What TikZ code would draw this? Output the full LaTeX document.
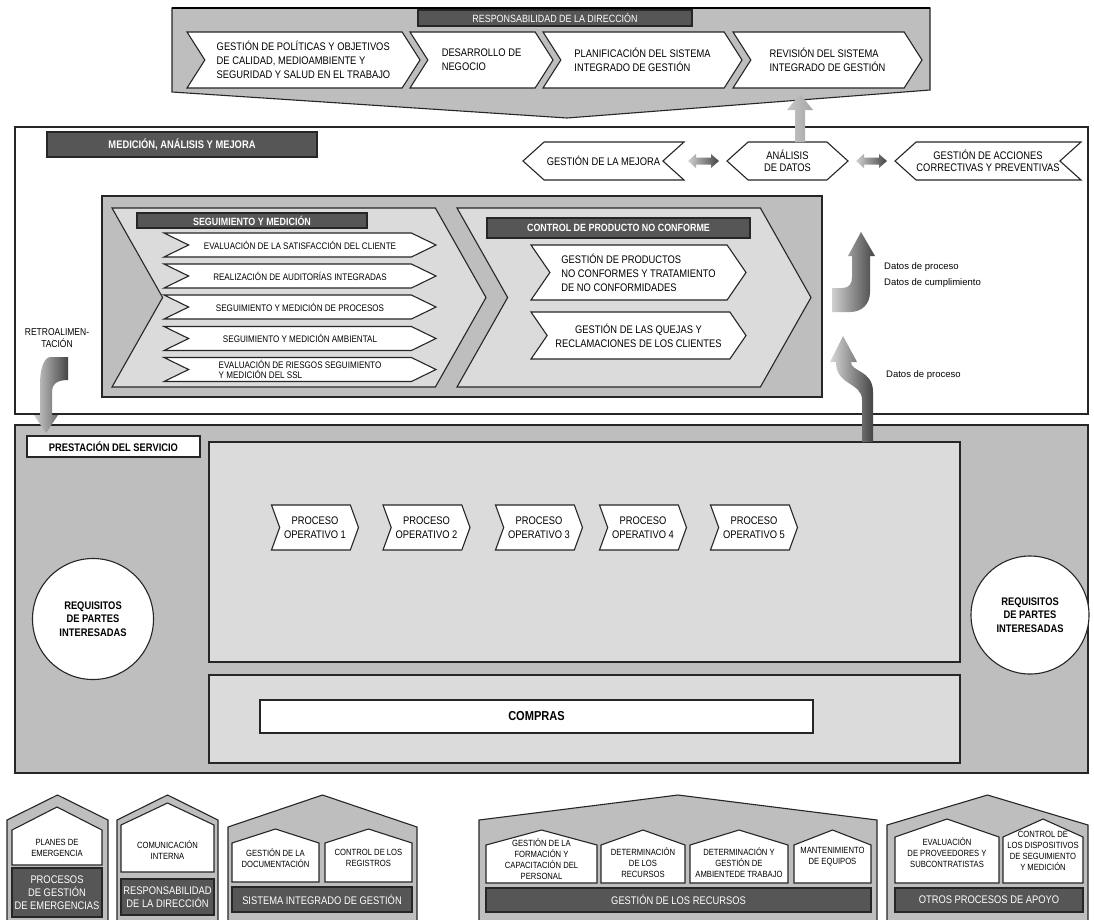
\documentclass[tikz,border=0pt]{standalone}
\usepackage{fontspec}
\setmainfont{Liberation Sans}
\newfontfamily\narrow{Liberation Sans}[FakeStretch=0.85]
\usetikzlibrary{shapes.symbols,calc}
\definecolor{midgray}{HTML}{BEBEBE}
\definecolor{panelgray}{HTML}{DBDBDB}
\definecolor{darkbar}{HTML}{565656}
\definecolor{framegray}{HTML}{262626}
\definecolor{arrowlight}{HTML}{D0D0D0}
\definecolor{arrowdark}{HTML}{454545}
\newcommand\fsz[2]{\fontsize{#1}{#2}\selectfont}
% house outline: style, left x, right x, eave y, peak y, bottom y
\newcommand\house[6][]{%
  \path[#1] (#2,#6) -- (#2,#4) -- ({(#2+#3)/2},#5) -- (#3,#4) -- (#3,#6) -- cycle;}
\tikzset{
  chev/.style={signal, signal from=west, signal to=east, draw=framegray, fill=white,
    inner sep=0pt, align=center, line width=1.1pt},
  topchev/.style={chev, signal pointer angle=115, minimum height=56pt, align=left,
    font={\narrow\fsz{11}{14}}},
  subchev/.style={chev, signal pointer angle=52, minimum width=272pt, minimum height=24pt,
    font={\narrow\fsz{9.5}{10.5}}},
  ctrlchev/.style={chev, signal pointer angle=111, minimum width=215pt,
    font={\narrow\fsz{11}{14}}},
  procchev/.style={chev, signal pointer angle=140, minimum width=87pt, minimum height=45pt,
    font={\narrow\fsz{11}{14}}},
  bigchev/.style={chev, signal pointer angle=121, minimum height=179pt, fill=panelgray},
  hexa/.style={signal, draw=framegray, fill=white, inner sep=0pt, line width=1.1pt,
    signal pointer angle=84, minimum height=38pt, align=center, font={\narrow\fsz{11}{12.5}}},
  bar/.style={draw=framegray, fill=darkbar, text=white, inner sep=0pt, line width=1.1pt,
    font={\narrow\fsz{10.5}{12}}},
  whitebox/.style={draw=framegray, fill=white, inner sep=0pt, line width=1.1pt},
  req/.style={circle, draw=framegray, fill=white, line width=1.1pt, minimum size=121pt,
    align=center, font={\narrow\bfseries\fsz{11}{13.5}}},
  housetext/.style={align=center, inner sep=0pt, font={\narrow\fsz{9}{11}}},
  housebar/.style={align=center, inner sep=0pt, text=white, font={\narrow\fsz{11}{13}}},
  datos/.style={anchor=west, align=left, inner sep=0pt, font={\fsz{9.5}{16}}}
}
\begin{document}
\begin{tikzpicture}[x=1pt,y=-1pt,line join=miter]
  \useasboundingbox (0,0) rectangle (1094,919);
  % responsabilidad de la direccion
  \draw[framegray,fill=midgray,line width=1.1pt] (172,8) -- (930,8) -- (930,90) -- (567,118) -- (172,92) -- cycle;
  \draw[black,line width=1.8pt] (172,8) -- (930,8);
  \node[bar,minimum width=274pt,minimum height=16pt] (resp) at (555,18) {RESPONSABILIDAD DE LA DIRECCIÓN};
  \node[topchev,minimum width=233pt] (pol) at (303.5,60) {GESTIÓN DE POLÍTICAS Y OBJETIVOS\\DE CALIDAD, MEDIOAMBIENTE Y\\SEGURIDAD Y SALUD EN EL TRABAJO};
  \node[topchev,minimum width=143pt] (neg) at (481.5,60) {DESARROLLO DE\\NEGOCIO};
  \node[topchev,minimum width=199pt] (plan) at (642.5,60) {PLANIFICACIÓN DEL SISTEMA\\INTEGRADO DE GESTIÓN};
  \node[topchev,minimum width=189pt] (rev) at (827.5,60) {REVISIÓN DEL SISTEMA\\INTEGRADO DE GESTIÓN};

  % medicion, analisis y mejora
  \draw[framegray,fill=white,line width=1.3pt] (15,127) rectangle (1088,414);
  \node[bar,minimum width=270pt,minimum height=25pt,font={\narrow\bfseries\fsz{11}{12}}] (med) at (182,144.5) {MEDICIÓN, ANÁLISIS Y MEJORA};
  \node[hexa,signal to=west,signal from=east,minimum width=161pt] (mejora) at (603.5,161) {GESTIÓN DE LA MEJORA};
  \node[hexa,signal to=west and east,minimum width=121pt] (anal) at (787.5,161) {ANÁLISIS\\DE DATOS};
  \node[hexa,signal to=west,signal from=east,minimum width=186pt] (acc) at (988,161) {GESTIÓN DE ACCIONES\\CORRECTIVAS Y PREVENTIVAS};
  \shade[left color=arrowlight,right color=arrowdark] (688,161) -- (696,154) -- (696,157.5) -- (711,157.5) -- (711,154) -- (719,161) -- (711,168) -- (711,164.5) -- (696,164.5) -- (696,168) -- cycle;
  \shade[left color=arrowlight,right color=arrowdark] (856,161) -- (864,154) -- (864,157.5) -- (879,157.5) -- (879,154) -- (887,161) -- (879,168) -- (879,164.5) -- (864,164.5) -- (864,168) -- cycle;
  \node[anchor=center,align=center,inner sep=0pt,font={\narrow\fsz{10}{11.5}}] (retro) at (57,338) {RETROALIMEN-\\TACIÓN};

  % seguimiento y control
  \draw[framegray,fill=midgray,line width=1.3pt] (102,196) rectangle (822,397);
  \node[bigchev,minimum width=374pt] (segui) at (299,297.5) {};
  \node[bigchev,minimum width=354pt] (ctrl) at (634,297.5) {};
  \node[bar,minimum width=230pt,minimum height=15pt,font={\narrow\bfseries\fsz{10.5}{12}}] (seguibar) at (252,220.5) {SEGUIMIENTO Y MEDICIÓN};
  \node[subchev] (satis) at (300,245) {EVALUACIÓN DE LA SATISFACCIÓN DEL CLIENTE};
  \node[subchev] (audit) at (300,276) {REALIZACIÓN DE AUDITORÍAS INTEGRADAS};
  \node[subchev] (proc) at (300,307) {SEGUIMIENTO Y MEDICIÓN DE PROCESOS};
  \node[subchev] (amb) at (300,338.5) {SEGUIMIENTO Y MEDICIÓN AMBIENTAL};
  \node[subchev,align=left] (ssl) at (300,369.5) {EVALUACIÓN DE RIESGOS SEGUIMIENTO\\Y MEDICIÓN DEL SSL};
  \node[bar,minimum width=263pt,minimum height=20pt,font={\narrow\bfseries\fsz{10.5}{12}}] (ctrlbar) at (618.5,228) {CONTROL DE PRODUCTO NO CONFORME};
  \node[ctrlchev,minimum height=55pt,align=left] (noconf) at (638.5,272.5) {GESTIÓN DE PRODUCTOS\\NO CONFORMES Y TRATAMIENTO\\DE NO CONFORMIDADES};
  \node[ctrlchev,minimum height=47pt] (quejas) at (638.5,335.5) {GESTIÓN DE LAS QUEJAS Y\\RECLAMACIONES DE LOS CLIENTES};
  \node[datos] (datos1) at (884,275) {Datos de proceso\\Datos de cumplimiento};
  \node[datos] (datos2) at (886,375) {Datos de proceso};

  % prestacion del servicio
  \draw[framegray,fill=midgray,line width=1.3pt] (15,425) rectangle (1088,773);
  \node[whitebox,minimum width=173pt,minimum height=21pt,font={\narrow\bfseries\fsz{11}{12}}] (prest) at (113.5,446.5) {PRESTACIÓN DEL SERVICIO};
  \draw[framegray,fill=panelgray,line width=1.3pt] (209,442) rectangle (960,662);
  \draw[framegray,fill=panelgray,line width=1.3pt] (209,675) rectangle (960,763);
  \node[whitebox,minimum width=553pt,minimum height=33pt,font={\narrow\bfseries\fsz{13}{14}}] (compras) at (536.5,716.5) {COMPRAS};
  \node[procchev] (op1) at (315,527.5) {PROCESO\\OPERATIVO 1};
  \node[procchev] (op2) at (426.5,527.5) {PROCESO\\OPERATIVO 2};
  \node[procchev] (op3) at (539,527.5) {PROCESO\\OPERATIVO 3};
  \node[procchev] (op4) at (643,527.5) {PROCESO\\OPERATIVO 4};
  \node[procchev] (op5) at (754,527.5) {PROCESO\\OPERATIVO 5};
  \node[req] (reqL) at (93,619) {REQUISITOS\\DE PARTES\\INTERESADAS};
  \node[req,minimum size=118pt] (reqR) at (1030,615) {REQUISITOS\\DE PARTES\\INTERESADAS};

  % flechas
  \shade[left color=gray!45,right color=gray!70] (795,142) -- (795,110) -- (787,110) -- (800,94) -- (813,110) -- (805,110) -- (805,142) -- cycle;
  \shade[left color=arrowlight,right color=arrowdark] (832,288) -- (842,288) .. controls (849,288) and (852,284) .. (852,277) -- (852,256) -- (848,256) -- (861,232) -- (875,256) -- (870,256) -- (870,292) .. controls (870,304) and (862,312) .. (850,312) -- (832,312) -- cycle;
  \shade[left color=arrowlight!80,right color=arrowdark] (862,442) -- (862,400) .. controls (862,382) and (836,386) .. (836,362) -- (830,362) -- (843,336) -- (857,362) -- (851,362) .. controls (851,372) and (873,370) .. (873,392) -- (873,442) -- cycle;
  \shade[left color=arrowlight,right color=arrowdark] (50,357) -- (68,357) -- (68,380) .. controls (60,380) and (52,382) .. (52,392) -- (52,415) -- (58,415) -- (46,433) -- (34,415) -- (40,415) -- (40,385) .. controls (40,368) and (44,358) .. (50,357) -- cycle;

  % procesos de apoyo
  \house[draw=framegray,fill=midgray,line width=1.1pt]{7}{108}{820}{795}{925}
  \house[draw=framegray,fill=white,line width=1.1pt]{12}{102}{830}{807}{865}
  \draw[framegray,fill=darkbar,line width=1.1pt] (12,868) rectangle (102,917);
  \node[housetext] (emerg) at (57,848) {PLANES DE\\EMERGENCIA};
  \node[housebar] (pge) at (57,893) {PROCESOS\\DE GESTIÓN\\DE EMERGENCIAS};

  \house[draw=framegray,fill=midgray,line width=1.1pt]{117}{218}{820}{795}{925}
  \house[draw=framegray,fill=white,line width=1.1pt]{121}{214}{825}{803}{872}
  \draw[framegray,fill=darkbar,line width=1.1pt] (121,879) rectangle (214,915);
  \node[housetext] (comun) at (167.5,850) {COMUNICACIÓN\\INTERNA};
  \node[housebar] (rdir) at (167.5,897) {RESPONSABILIDAD\\DE LA DIRECCIÓN};

  \house[draw=framegray,fill=midgray,line width=1.1pt]{228}{417}{827}{795}{925}
  \house[draw=framegray,fill=white,line width=1.1pt]{232}{319}{843}{829}{882}
  \house[draw=framegray,fill=white,line width=1.1pt]{325}{412}{843}{829}{882}
  \draw[framegray,fill=darkbar,line width=1.1pt] (232,887) rectangle (412,912);
  \node[housetext] (docu) at (275.5,858) {GESTIÓN DE LA\\DOCUMENTACIÓN};
  \node[housetext] (regis) at (368.5,858) {CONTROL DE LOS\\REGISTROS};
  \node[housebar] (sig) at (322,899.5) {SISTEMA INTEGRADO DE GESTIÓN};

  \house[draw=framegray,fill=midgray,line width=1.1pt]{479}{877}{820}{795}{925}
  \house[draw=framegray,fill=white,line width=1.1pt]{486}{597}{845}{830}{883}
  \house[draw=framegray,fill=white,line width=1.1pt]{601}{685}{845}{830}{883}
  \house[draw=framegray,fill=white,line width=1.1pt]{690}{788}{845}{830}{883}
  \house[draw=framegray,fill=white,line width=1.1pt]{794}{871}{845}{830}{883}
  \draw[framegray,fill=darkbar,line width=1.1pt] (486,888) rectangle (871,912);
  \node[housetext] (form) at (541.5,859) {GESTIÓN DE LA\\FORMACIÓN Y\\CAPACITACIÓN DEL\\PERSONAL};
  \node[housetext] (detrec) at (643,863) {DETERMINACIÓN\\DE LOS\\RECURSOS};
  \node[housetext] (ambtr) at (739,863) {DETERMINACIÓN Y\\GESTIÓN DE\\AMBIENTEDE TRABAJO};
  \node[housetext] (mant) at (832.5,857) {MANTENIMIENTO\\DE EQUIPOS};
  \node[housebar] (grec) at (678.5,900) {GESTIÓN DE LOS RECURSOS};

  \house[draw=framegray,fill=midgray,line width=1.1pt]{887}{1088}{825}{795}{925}
  \house[draw=framegray,fill=white,line width=1.1pt]{895}{999}{837}{819}{883}
  \house[draw=framegray,fill=white,line width=1.1pt]{1003}{1083}{837}{819}{883}
  \draw[framegray,fill=darkbar,line width=1.1pt] (895,888) rectangle (1083,912);
  \node[housetext] (prov) at (947,853) {EVALUACIÓN\\DE PROVEEDORES Y\\SUBCONTRATISTAS};
  \node[housetext] (disp) at (1043,851) {CONTROL DE\\LOS DISPOSITIVOS\\DE SEGUIMIENTO\\Y MEDICIÓN};
  \node[housebar] (apoyo) at (989,900) {OTROS PROCESOS DE APOYO};
\end{tikzpicture}
\end{document}
